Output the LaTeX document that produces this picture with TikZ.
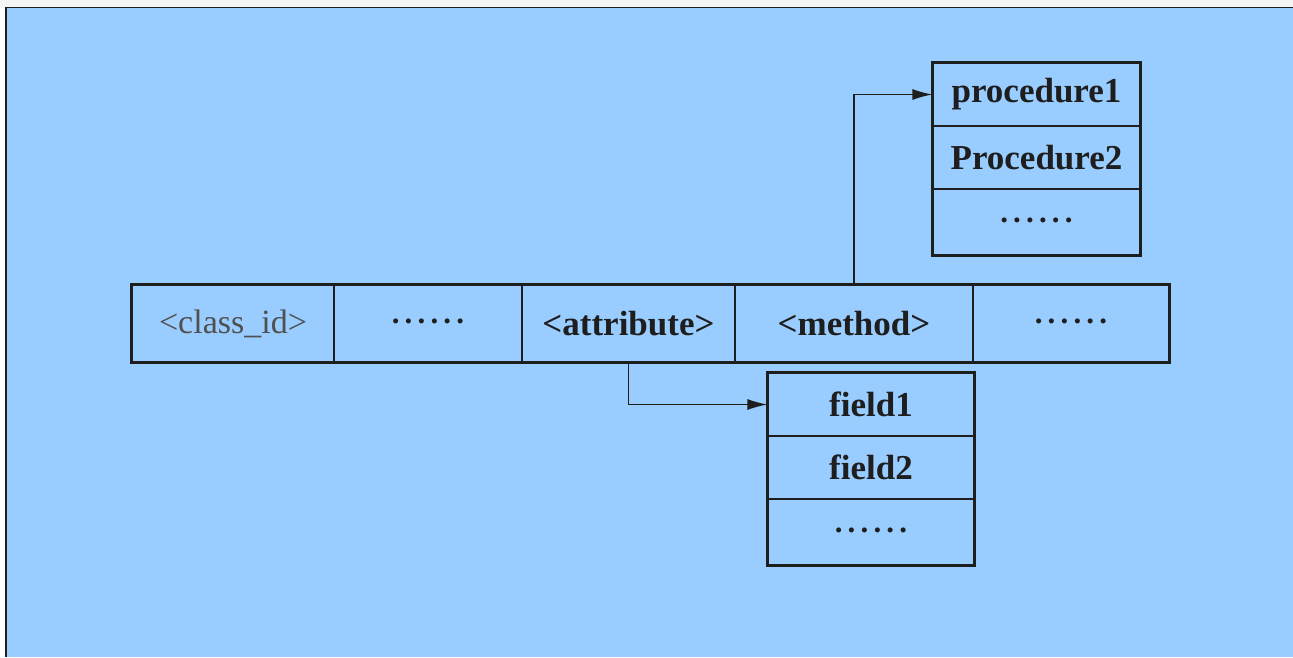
\documentclass[tikz,border=0pt]{standalone}
\usepackage{fontspec}
\setmainfont{Liberation Serif}
\usetikzlibrary{arrows.meta}
\definecolor{bgblue}{HTML}{99CCFF}
\definecolor{ink}{HTML}{1E1E1E}
\definecolor{greytext}{HTML}{505050}
\newcommand{\sixdots}{\raisebox{0.12em}{\textbf{.\,.\,.\,.\,.\,.}}}
\begin{document}
\begin{tikzpicture}[x=1pt,y=-1pt,
  cell/.style={draw=ink,line width=1.3pt,inner sep=0pt,anchor=center,
    font=\fontsize{35}{38}\selectfont\bfseries,text=ink},
  dotcell/.style={cell,font=\fontsize{31}{34}\selectfont},
  outer/.style={draw=ink,line width=2.4pt},
  conn/.style={draw=ink,line width=1.3pt,-{Latex[length=20pt,width=11pt]}}]
\useasboundingbox (0,0) rectangle (1293,657);
\fill[white!96!black] (0,0) rectangle (1293,8);
\fill[white] (0,8) rectangle (6,657);
\fill[bgblue] (6,8) rectangle (1293,657);
\draw[ink,line width=1.2pt] (6,657) -- (6,7.5) -- (1293,7.5);
% main row
\node[cell,minimum width=202pt,minimum height=77pt,font=\fontsize{34}{37}\selectfont,text=greytext] (c1) at (233,323.5) {<class\_id>};
\node[dotcell,minimum width=188pt,minimum height=77pt] (c2) at (428,323.5) {\sixdots};
\node[cell,minimum width=213pt,minimum height=77pt] (c3) at (628.5,323.5) {<attribute>};
\node[cell,minimum width=238pt,minimum height=77pt] (c4) at (854,323.5) {<method>};
\node[dotcell,minimum width=196pt,minimum height=77pt] (c5) at (1071,323.5) {\sixdots};
\draw[outer] (c1.north west) rectangle (c5.south east);
% method box
\node[cell,minimum width=207pt,minimum height=63pt] (m1) at (1036.5,94.5) {procedure1};
\node[cell,minimum width=207pt,minimum height=63pt] (m2) at (1036.5,157.5) {Procedure2};
\node[dotcell,minimum width=207pt,minimum height=66pt] (m3) at (1036.5,222) {\sixdots};
\draw[outer] (m1.north west) rectangle (m3.south east);
% field box
\node[cell,minimum width=206pt,minimum height=63pt] (f1) at (871,404.5) {field1};
\node[cell,minimum width=206pt,minimum height=63pt] (f2) at (871,467.5) {field2};
\node[dotcell,minimum width=206pt,minimum height=66pt] (f3) at (871,532) {\sixdots};
\draw[outer] (f1.north west) rectangle (f3.south east);
% connectors
\draw[conn] (c4.north) |- (m1.west);
\draw[conn] (c3.south) |- (f1.west);
\end{tikzpicture}
\end{document}
